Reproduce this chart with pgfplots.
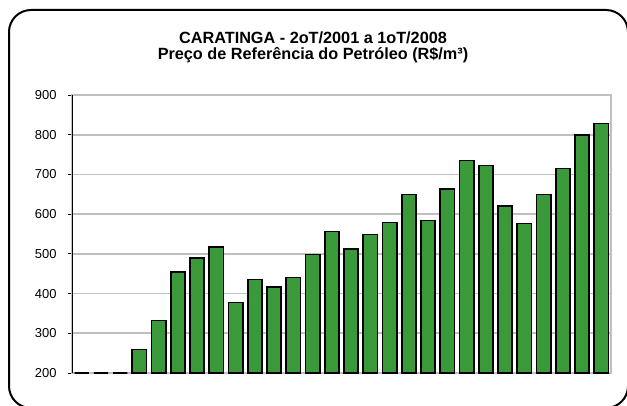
\documentclass[border=0pt]{standalone}
\usepackage{fontspec}
\setmainfont{Liberation Sans}
\usepackage{pgfplots}
\pgfplotsset{compat=1.18}
\definecolor{barfill}{HTML}{3A9A3A}
\definecolor{gridg}{HTML}{C0C0C0}
\begin{document}
\begin{tikzpicture}[x=1bp,y=1bp]
\clip (0,0) rectangle (627,405);
\path[use as bounding box] (0,0) rectangle (627,405);
\draw[line width=2bp, rounded corners=22bp] (9,-3) rectangle (628,395);
\node[anchor=base, font=\bfseries\fontsize{16.3}{18}\selectfont] at (313,361.5) {CARATINGA - 2oT/2001 a 1oT/2008};
\node[anchor=base, font=\bfseries\fontsize{16.3}{18}\selectfont] at (313,345.5) {Preço de Referência do Petróleo (R\$/m³)};
\begin{axis}[
  at={(72bp,32bp)}, anchor=south west,
  scale only axis, width=539bp, height=278bp,
  ymin=200, ymax=900, ytick={200,300,...,900},
  xmin=-0.5, xmax=27.5, xtick=\empty,
  ymajorgrids, grid style={gridg, line width=1.8bp},
  axis line style={gridg, line width=1.5bp},
  ytick pos=left, tick align=outside, major tick length=4bp,
  ytick style={black, line width=1bp},
  tick label style={font=\fontsize{13}{14}\selectfont},
  /pgf/number format/assume math mode=true,
  yticklabel style={xshift=-8bp},
  ybar, bar width=0.74,
]
\addplot[draw=black, line width=1.6bp, fill=barfill] coordinates {
(0,200) (1,200) (2,200) (3,259) (4,332) (5,455) (6,490) (7,517) (8,378) (9,435)
(10,417) (11,440) (12,498) (13,556) (14,513) (15,549) (16,579) (17,649) (18,584) (19,664)
(20,735) (21,722) (22,621) (23,576) (24,649) (25,715) (26,800) (27,828)
};
\draw[black, line width=2bp] (axis cs:-0.5,200) -- (axis cs:-0.5,902);
\end{axis}
\end{tikzpicture}
\end{document}
